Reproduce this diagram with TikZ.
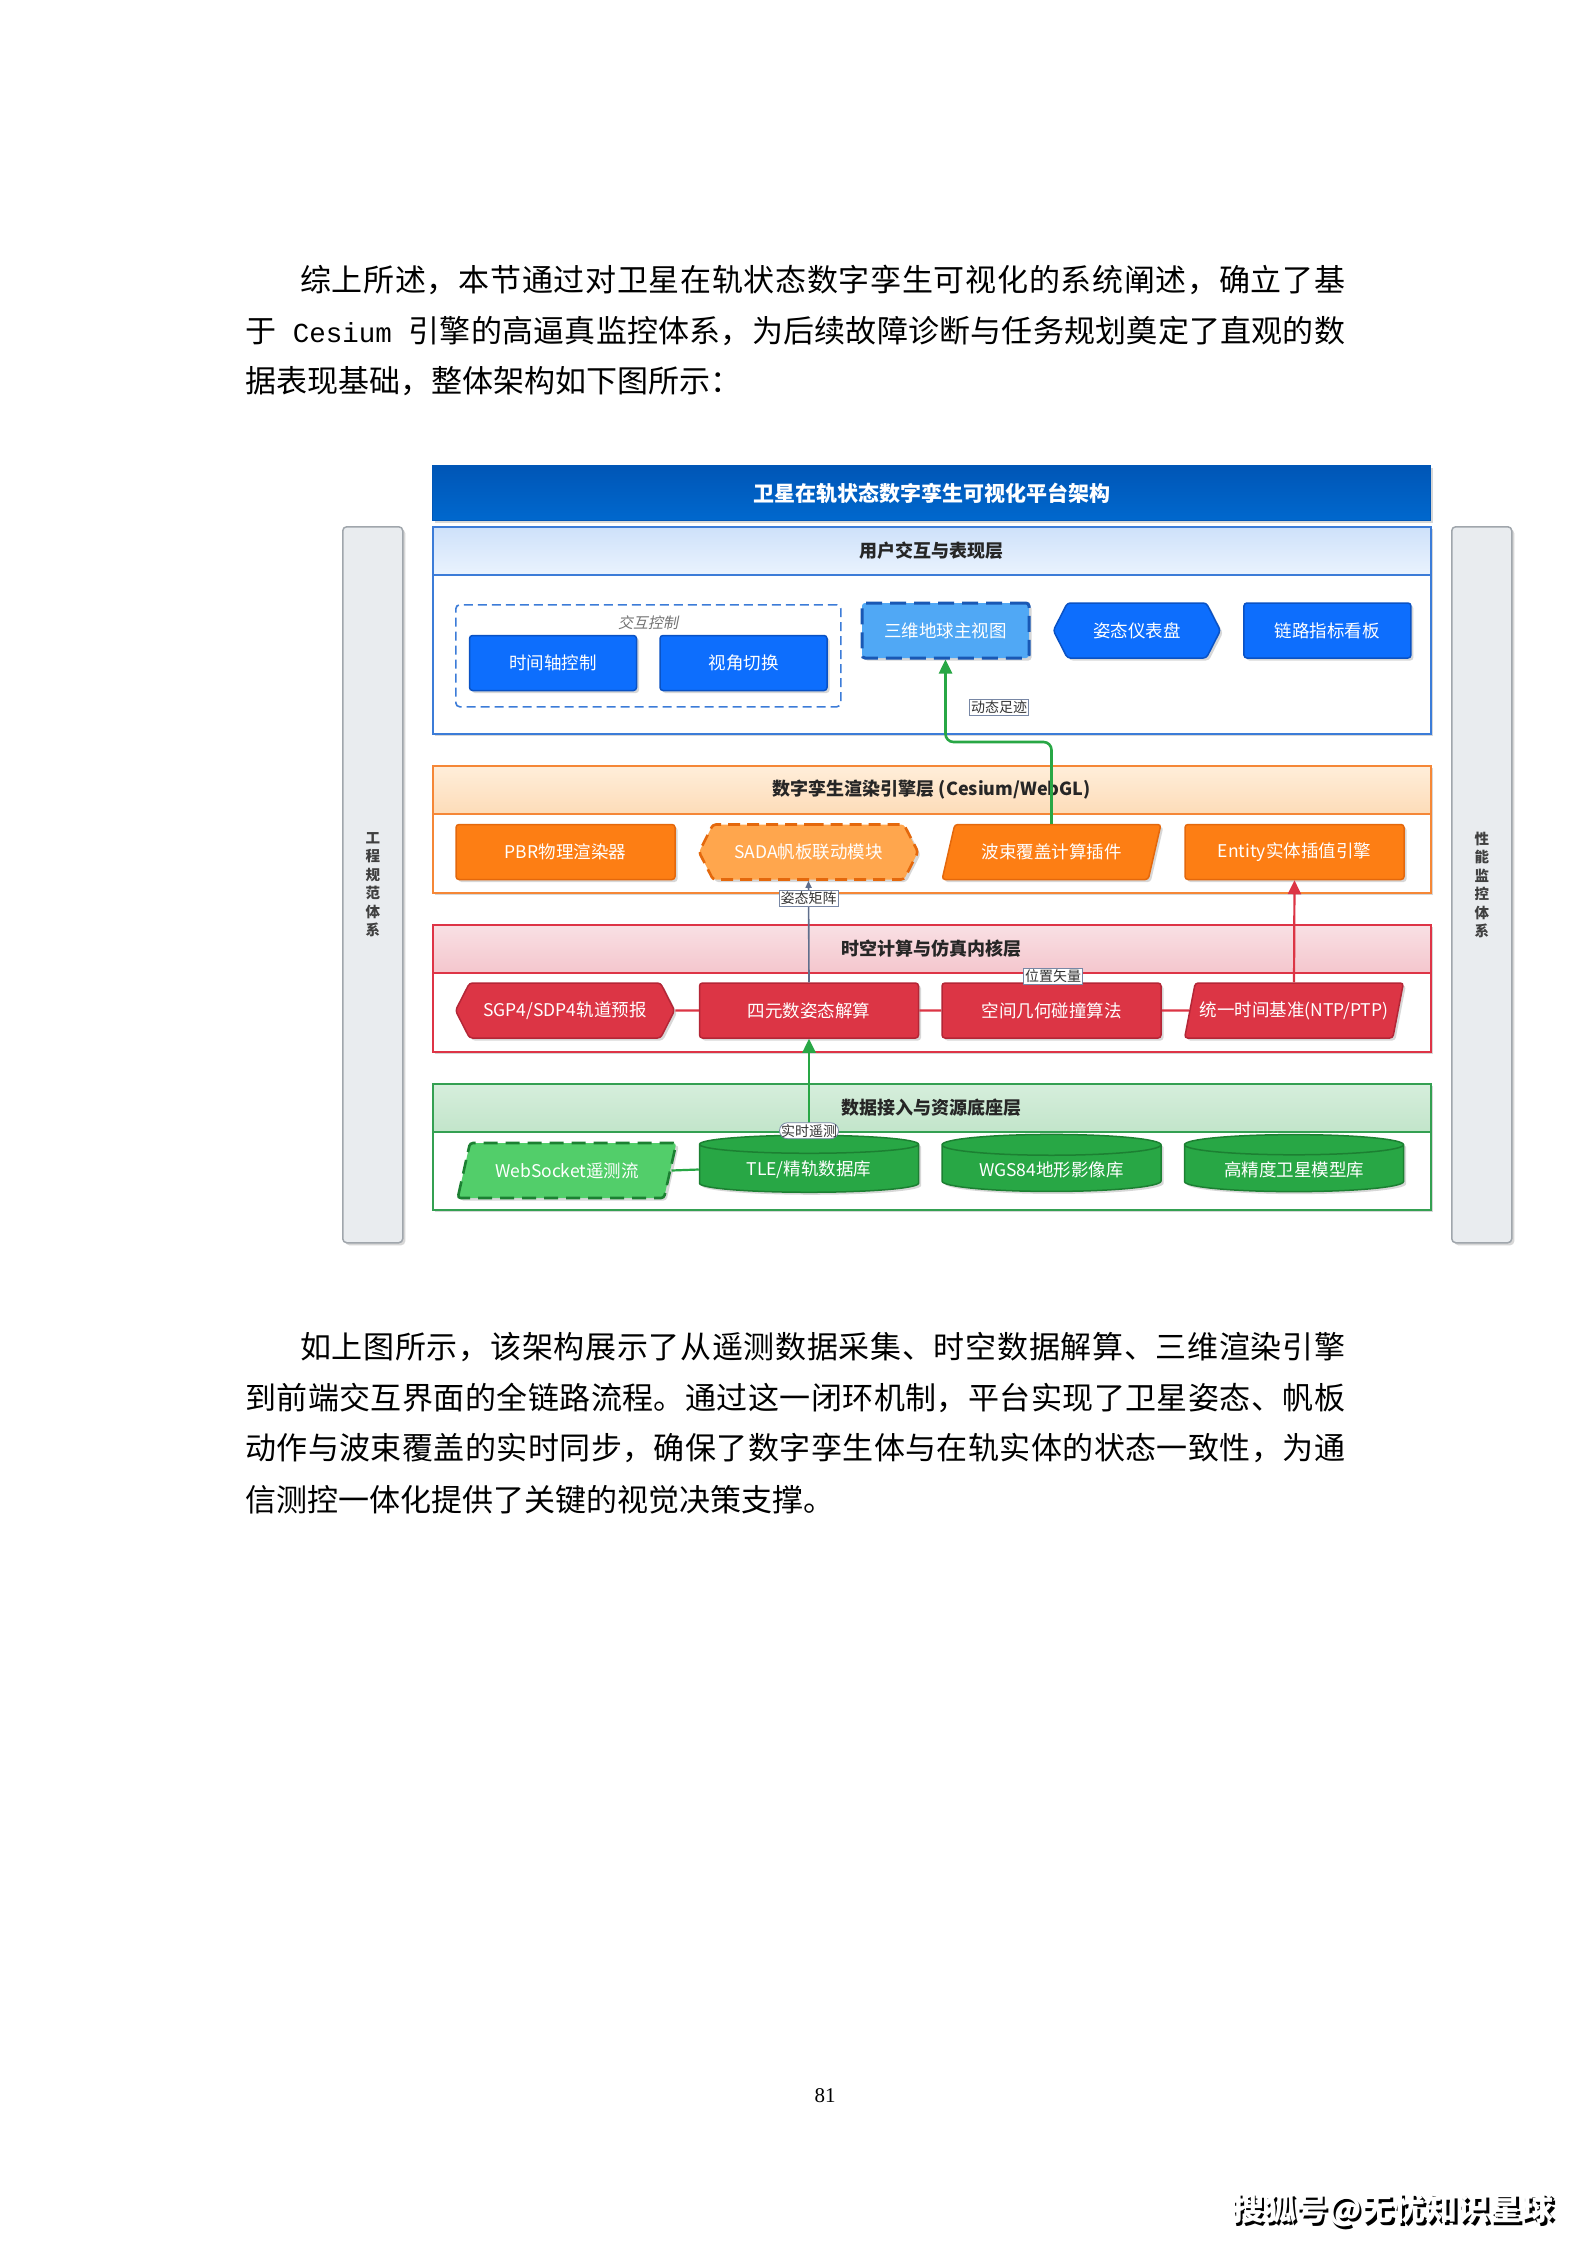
\documentclass[tikz,border=0pt]{standalone}
\usepackage{fontspec}
\setmainfont{Noto Sans CJK SC}
\newfontfamily\slantcjk{Noto Sans CJK SC}[FakeSlant=0.2]
\newfontfamily\monolat{Liberation Mono}
\newfontfamily\seriflat{Liberation Serif}
\usetikzlibrary{arrows.meta,positioning,calc,shapes.geometric,shapes.symbols,shadows}

\definecolor{capblue}{RGB}{0,86,182}
\definecolor{capblue2}{RGB}{0,104,206}
\definecolor{uiline}{RGB}{60,124,216}
\definecolor{uitop}{RGB}{206,225,250}
\definecolor{uibot}{RGB}{234,243,254}
\definecolor{nodeblue}{RGB}{13,110,253}
\definecolor{nodeblue2}{RGB}{10,82,196}
\definecolor{earthblue}{RGB}{80,168,245}
\definecolor{earthline}{RGB}{25,88,180}
\definecolor{engline}{RGB}{245,135,55}
\definecolor{engtop}{RGB}{255,238,218}
\definecolor{engbot}{RGB}{253,220,184}
\definecolor{nodeorg}{RGB}{253,126,20}
\definecolor{nodeorg2}{RGB}{228,104,12}
\definecolor{sadaorg}{RGB}{255,166,77}
\definecolor{kerline}{RGB}{222,52,70}
\definecolor{kertop}{RGB}{249,224,228}
\definecolor{kerbot}{RGB}{244,198,205}
\definecolor{nodered}{RGB}{220,53,69}
\definecolor{nodered2}{RGB}{180,38,54}
\definecolor{datline}{RGB}{52,160,82}
\definecolor{dattop}{RGB}{214,238,220}
\definecolor{datbot}{RGB}{194,229,202}
\definecolor{nodegrn}{RGB}{40,167,69}
\definecolor{nodegrn2}{RGB}{28,128,50}
\definecolor{wsgrn}{RGB}{82,206,106}
\definecolor{sidefill}{RGB}{233,236,239}
\definecolor{sideline}{RGB}{160,166,172}
\definecolor{tagline}{RGB}{120,135,165}
\definecolor{mtxgray}{RGB}{95,110,140}

\newcommand{\bodyfont}{\fontsize{31}{40}\selectfont}
\newcommand{\capfont}{\fontsize{21}{24}\selectfont\bfseries}
\newcommand{\headfont}{\fontsize{18}{21}\selectfont\bfseries}
\newcommand{\nodefont}{\fontsize{17.5}{21}\selectfont}
\newcommand{\tagfont}{\fontsize{14}{16}\selectfont}
\newcommand{\grpfont}{\fontsize{15}{17}\slantcjk}
\newcommand{\sidefont}{\fontsize{14.5}{18.5}\selectfont\bfseries}
\newcommand{\wmfont}{\fontsize{32}{36}\selectfont\bfseries}
\newcommand{\cesium}{\hbox{\monolat\fontsize{27.5}{40}\selectfont\ Cesium\ }}
% spread a line of characters over a fixed width
\def\spreadchars#1{\spreadfirst#1\relax}
\def\spreadfirst#1{#1\spreadnext}
\def\spreadnext#1{\ifx#1\relax\else\hfil#1\expandafter\spreadnext\fi}
\newcommand{\fullline}[2]{\hbox to #1pt{\spreadchars{#2}}}

\begin{document}
\begin{tikzpicture}[x=1pt, y=-1pt,
  sh/.style={drop shadow={shadow xshift=2.5pt, shadow yshift=-2.5pt, opacity=0.22, fill=black!70}},
  line/.style={anchor=west, inner sep=0, font=\bodyfont},
  layer/.style={draw, line width=1.6pt, fill=white, anchor=north west, minimum width=998, inner sep=0, sh},
  band/.style={draw, line width=1.6pt, anchor=north west, minimum width=998, minimum height=48, inner sep=0, font=\headfont, text=black!85},
  blk/.style={draw, line width=1.5pt, rounded corners=3, text=white, minimum height=55, minimum width=219, inner sep=2, font=\nodefont, sh},
  bluebox/.style={blk, fill=nodeblue, draw=nodeblue2, minimum width=167},
  orgbox/.style={blk, fill=nodeorg, draw=nodeorg2},
  redbox/.style={blk, fill=nodered, draw=nodered2},
  grnbox/.style={blk, fill=nodegrn, draw=nodegrn2},
  hexa/.style={signal, signal to=west and east, signal pointer angle=126},
  slant/.style={trapezium, trapezium left angle=65, trapezium right angle=115, trapezium stretches=true},
  drum/.style={cylinder, shape border rotate=90, aspect=0.14, sharp corners, minimum height=57},
  tag/.style={draw=tagline, fill=white, line width=0.8pt, inner sep=1.5, font=\tagfont, text=black!80},
  side/.style={draw=sideline, fill=sidefill, line width=1.5pt, rounded corners=4, anchor=north west, minimum width=60, minimum height=716, align=center, font=\sidefont, text=black!75, sh},
  arr/.style={-{Triangle[length=14pt,width=13pt]}, line width=2.6pt, rounded corners=8},
  rowlink/.style={line width=2.2pt}
]
\useasboundingbox (0,0) rectangle (1587,2245);
\fill[white] (0,0) rectangle (1587,2245);

% text before the figure
\node[line] (p1a) at (300,280) {\fullline{1045}{综上所述，本节通过对卫星在轨状态数字孪生可视化的系统阐述，确立了基}};
\node[line] (p1b) at (245,331) {\fullline{1100}{于\cesium 引擎的高逼真监控体系，为后续故障诊断与任务规划奠定了直观的数}};
\node[line] (p1c) at (245,381) {据表现基础，整体架构如下图所示：};

% side bars
\node[side] (specbar) at (342,526) {工\\程\\规\\范\\体\\系};
\node[side] (perfbar) at (1451,526) {性\\能\\监\\控\\体\\系};

% title
\node[anchor=north west, minimum width=998, minimum height=55, inner sep=0, draw=capblue, line width=1pt,
  top color=capblue, bottom color=capblue2, text=white, font=\capfont, sh] (caption) at (432,465) {卫星在轨状态数字孪生可视化平台架构};

% layers
\node[layer, draw=uiline, minimum height=207] (uilayer) at (432,526) {};
\node[band, draw=uiline, top color=uitop, bottom color=uibot] (uiband) at (432,526) {用户交互与表现层};
\node[layer, draw=engline, minimum height=127] (englayer) at (432,765) {};
\node[band, draw=engline, top color=engtop, bottom color=engbot] (engband) at (432,765) {数字孪生渲染引擎层 (Cesium/WebGL)};
\node[layer, draw=kerline, minimum height=127] (kerlayer) at (432,924) {};
\node[band, draw=kerline, top color=kertop, bottom color=kerbot] (kerband) at (432,924) {时空计算与仿真内核层};
\node[layer, draw=datline, minimum height=126] (datlayer) at (432,1083) {};
\node[band, draw=datline, top color=dattop, bottom color=datbot] (datband) at (432,1083) {数据接入与资源底座层};

% user layer
\node[draw=uiline, dash pattern=on 9pt off 5pt, line width=1.6pt, rounded corners=4, anchor=north west,
  minimum width=385, minimum height=102, inner sep=0] (ctrlgrp) at (455,604) {};
\node[font=\grpfont, text=black!55, inner sep=0] (ctrlname) at (648,623) {交互控制};
\node[bluebox] (timeline) at (553,663) {时间轴控制};
\node[bluebox, right=22pt of timeline] (viewsw) {视角切换};
\node[bluebox, fill=earthblue, draw=earthline, line width=3pt, dash pattern=on 16pt off 8pt] (earth) at (945.5,630.5) {三维地球主视图};
\node[bluebox, hexa, right=22pt of earth] (gauge) {姿态仪表盘};
\node[bluebox, right=22pt of gauge] (linkbd) {链路指标看板};

% engine layer
\node[orgbox] (pbr) at (565.5,852) {PBR物理渲染器};
\node[orgbox, hexa, fill=sadaorg, line width=2.6pt, dash pattern=on 12pt off 7pt] (sada) at (808.5,852) {SADA帆板联动模块};
\node[orgbox, slant] (beam) at (1051.5,852) {波束覆盖计算插件};
\node[orgbox] (entity) at (1294.5,852) {Entity实体插值引擎};

% kernel layer
\node[redbox, hexa] (sgp) at (565,1010.5) {SGP4/SDP4轨道预报};
\node[redbox] (quat) at (809,1010.5) {四元数姿态解算};
\node[redbox] (geo) at (1051.5,1010.5) {空间几何碰撞算法};
\node[redbox, slant] (ntp) at (1294,1010.5) {统一时间基准(NTP/PTP)};

% data layer
\node[grnbox, slant, fill=wsgrn, line width=2.6pt, dash pattern=on 14pt off 8pt] (ws) at (567,1170.5) {WebSocket遥测流};
\node[grnbox, drum] (tle) at (809,1169.5) {TLE/精轨数据库};
\node[grnbox, drum] (wgs) at (1051.5,1169.5) {WGS84地形影像库};
\node[grnbox, drum] (model) at (1294,1169.5) {高精度卫星模型库};

% connectors
\draw[rowlink, color=nodered] (sgp.east) -- (quat.west) (quat.east) -- (geo.west) (geo.east) -- (ntp.west);
\draw[rowlink, color=nodegrn] (ws.east) -- (tle.west);
\coordinate (bend) at (0,742);
\draw[arr, color=nodegrn] (beam.north) -- (beam.north |- bend) -| (earth.south);
\node[tag] (trail) at (999,707) {动态足迹};
\draw[-{Triangle[length=7pt,width=6pt]}, line width=1.6pt, color=mtxgray] (quat.north) -- node[tag, pos=0.83] (attmx) {姿态矩阵} (sada.south);
\node[tag] (posvec) at (1053,976.5) {位置矢量};
\draw[arr, line width=2.2pt, color=nodered] (ntp.north) -- (entity.south);
\draw[arr, color=nodegrn] (tle.north) -- node[tag, pos=0.04] (rtlm) {实时遥测} (quat.south);

% text after the figure
\node[line] (p2a) at (300,1347) {\fullline{1045}{如上图所示，该架构展示了从遥测数据采集、时空数据解算、三维渲染引擎}};
\node[line] (p2b) at (245,1398) {\fullline{1100}{到前端交互界面的全链路流程。通过这一闭环机制，平台实现了卫星姿态、帆板}};
\node[line] (p2c) at (245,1448) {\fullline{1100}{动作与波束覆盖的实时同步，确保了数字孪生体与在轨实体的状态一致性，为通}};
\node[line] (p2d) at (245,1500) {信测控一体化提供了关键的视觉决策支撑。};

% page number and mark
\node[font=\seriflat\fontsize{21}{24}\selectfont] (pageno) at (825,2096) {81};
\node[font=\wmfont, text=black] (markback) at (1395.5,2212.5) {搜狐号@无忧知识星球};
\node[font=\wmfont, text=white] (markfront) at (1393,2210) {搜狐号@无忧知识星球};
\end{tikzpicture}
\end{document}
